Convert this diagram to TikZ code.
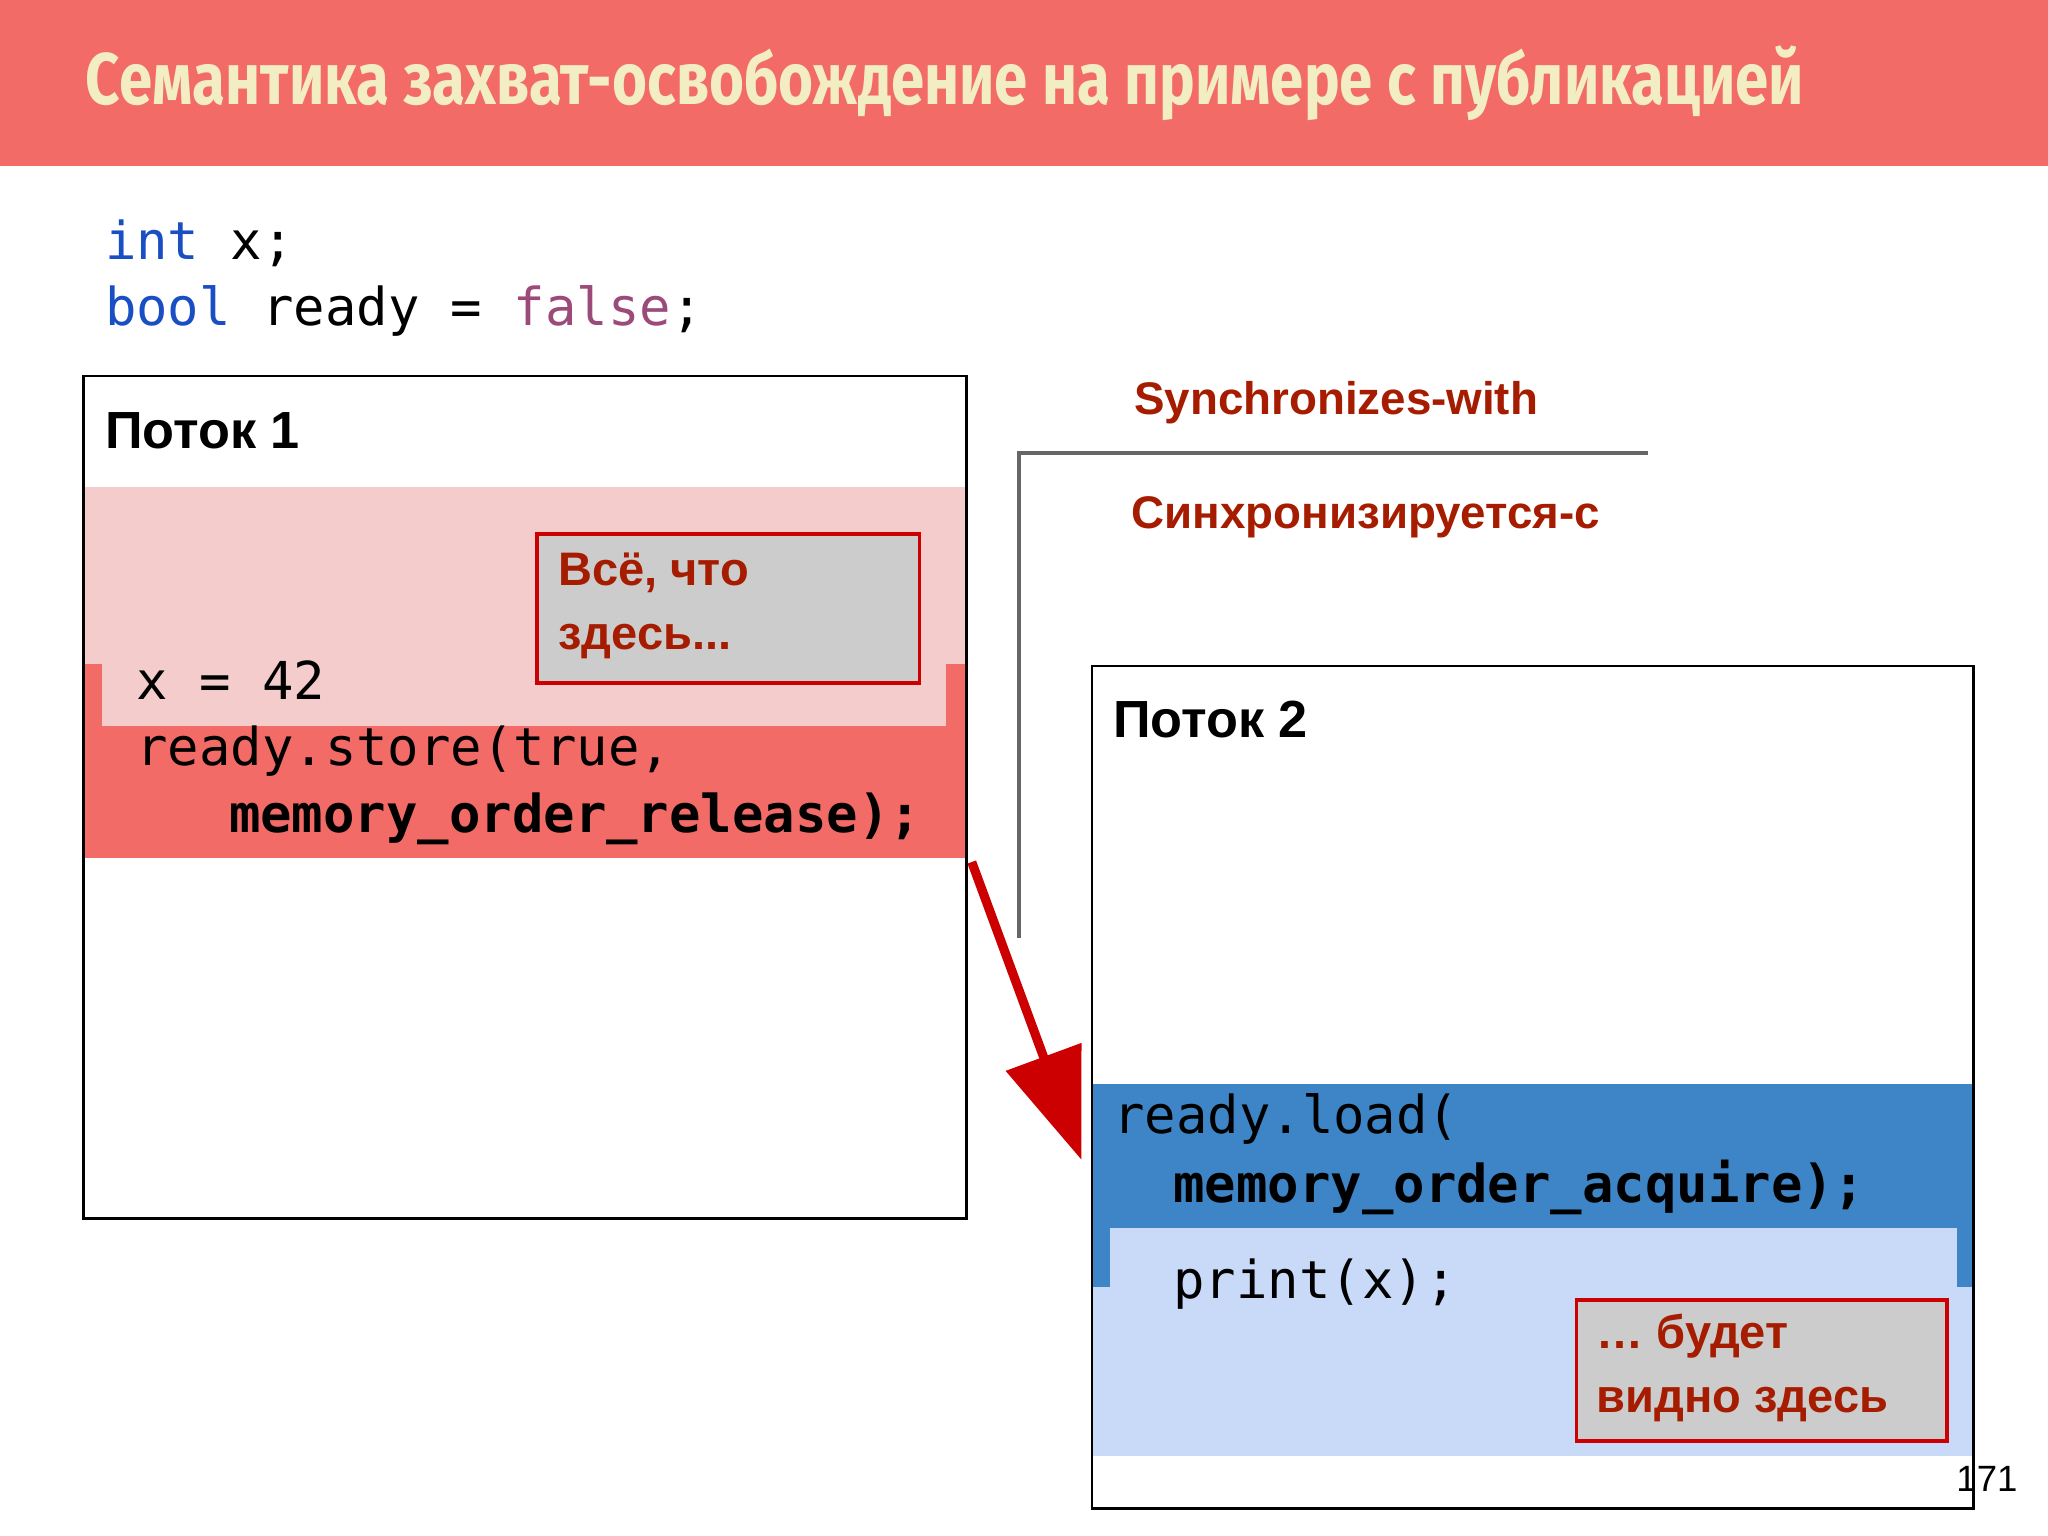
\documentclass[tikz,border=0pt]{standalone}
\usepackage{fontspec}
\setmainfont{Liberation Sans}
\setmonofont{DejaVu Sans Mono}
\newfontfamily\titlefont{Fira Sans}
\usetikzlibrary{arrows.meta}
\definecolor{tred}{HTML}{F26B66}
\definecolor{pinkl}{HTML}{F4CCCC}
\definecolor{bblue}{HTML}{3D85C6}
\definecolor{lblue}{HTML}{C9DAF8}
\definecolor{dred}{HTML}{A61C00}
\definecolor{kred}{HTML}{CC0000}
\definecolor{cream}{HTML}{F3EDC4}
\definecolor{kwblue}{HTML}{1A4FC4}
\definecolor{kwpurp}{HTML}{9C4A7A}
\tikzset{x=0.5pt,y=-0.5pt,
 code/.style={anchor=west,inner sep=0,font=\fontsize{20}{24}\selectfont\ttfamily},
 thread/.style={anchor=west,inner sep=0,font=\fontsize{20}{24}\selectfont\bfseries},
 note/.style={draw=kred,line width=1.5pt,fill=black!20},
 notetxt/.style={anchor=north west,inner sep=0,align=left,text=dred,font=\fontsize{18}{24.5}\selectfont\bfseries},
 lbl/.style={anchor=west,inner sep=0,text=dred,font=\fontsize{17.5}{20}\selectfont\bfseries}}
\begin{document}
\begin{tikzpicture}
\useasboundingbox (0,0) rectangle (1568,1176);
\fill[tred] (0,0) rectangle (1568,127);
\node[anchor=west,text=cream,font=\fontsize{28}{32}\selectfont\titlefont\bfseries,xscale=0.82,transform shape] (title) at (60,64) {Семантика захват-освобождение на примере с публикацией};
\node[code] (l1) at (80,186) {\textcolor{kwblue}{int} x;};
\node[code] (l2) at (80,238) {\textcolor{kwblue}{bool} ready = \textcolor{kwpurp}{false};};
% thread 1
\fill[pinkl] (64,373) rectangle (740,508);
\fill[tred] (64,508) rectangle (740,657);
\fill[pinkl] (78,508) rectangle (724,556);
\draw[line width=1pt] (64,288) rectangle (740,933);
\node[thread] (t1) at (80,330) {Поток 1};
\draw[note] (411,409) rectangle (704,523);
\node[notetxt] (n1) at (427,423) {Всё, что\\здесь...};
\node[code] (c1) at (104,521) {x = 42};
\node[code] (c2) at (104,575) {ready.store(true,};
\node[code,font=\fontsize{20}{24}\selectfont\ttfamily\bfseries] (c3) at (175,627) {memory\_order\_release);};
% thread 2
\fill[bblue] (836,830) rectangle (1511,985);
\fill[lblue] (850,940) rectangle (1498,985);
\fill[lblue] (836,985) rectangle (1511,1115);
\draw[line width=1pt] (836,510) rectangle (1511,1155);
\node[thread] (t2) at (852,551) {Поток 2};
\node[code] (d1) at (852,857) {ready.load(};
\node[code,font=\fontsize{20}{24}\selectfont\ttfamily\bfseries] (d2) at (898,909) {memory\_order\_acquire);};
\node[code] (d3) at (898,983) {print(x);};
\draw[note] (1207,995) rectangle (1491,1103);
\node[notetxt] (n2) at (1222,1006) {… будет\\видно здесь};
% sync line
\coordinate (g1) at (780,718);
\coordinate (g2) at (780,347);
\coordinate (g3) at (1262,347);
\draw[black!60,line width=1.5pt] (g1) -- (g2) -- (g3);
\node[lbl] (s1) at (868,308) {Synchronizes-with};
\node[lbl] (s2) at (866,396) {Синхронизируется-с};
% arrow
\coordinate (a1) at (744,660);
\coordinate (a2) at (828,888);
\draw[kred,line width=3.5pt,-{Triangle[length=42pt,width=30pt]}] (a1) -- (a2);
\node[anchor=east,inner sep=0,font=\fontsize{14}{16}\selectfont] (pg) at (1545,1132) {171};
\end{tikzpicture}
\end{document}
